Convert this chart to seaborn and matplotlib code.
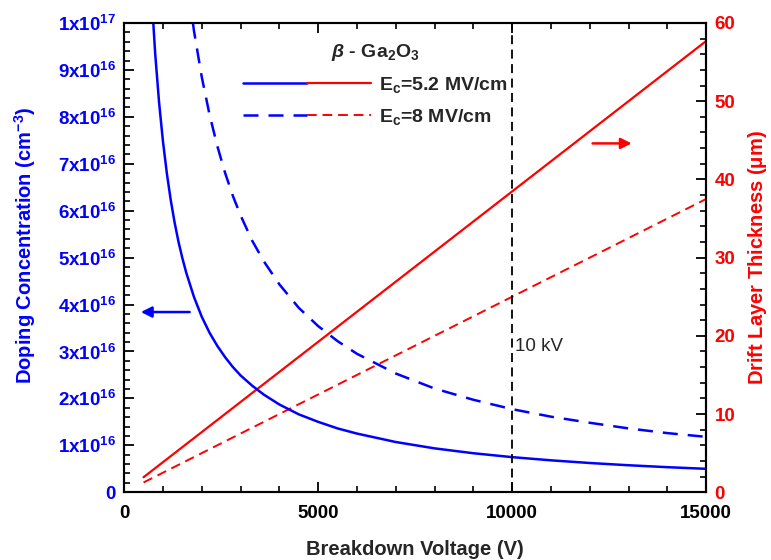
import matplotlib
matplotlib.use('Agg')
import matplotlib.pyplot as plt
import seaborn as sns
import pandas as pd
from matplotlib.legend_handler import HandlerTuple
from matplotlib.lines import Line2D
from matplotlib.ticker import MultipleLocator, FuncFormatter

# 값은 그림에서 읽은 것
voltage = [500, 600, 700, 800, 900, 1000, 1100, 1200, 1300, 1400, 1500, 1600, 1800,
           2000, 2200, 2400, 2600, 2800, 3000, 3300, 3600, 4000, 4500, 5000, 5500,
           6000, 7000, 8000, 9000, 10000, 11000, 12000, 13000, 14000, 15000]
# doping (x1e16 cm^-3)
doping_52 = [14.96, 12.47, 10.69, 9.35, 8.31, 7.48, 6.80, 6.23, 5.75, 5.34, 4.99, 4.68, 4.16,
             3.74, 3.40, 3.12, 2.88, 2.67, 2.49, 2.27, 2.08, 1.87, 1.66, 1.50, 1.36,
             1.25, 1.07, 0.935, 0.831, 0.748, 0.680, 0.623, 0.575, 0.534, 0.499]
doping_8 = [35.4, 29.5, 25.3, 22.1, 19.7, 17.7, 16.09, 14.75, 13.62, 12.64, 11.80, 11.06, 9.83,
            8.85, 8.05, 7.38, 6.81, 6.32, 5.90, 5.36, 4.92, 4.43, 3.93, 3.54, 3.22,
            2.95, 2.53, 2.21, 1.97, 1.77, 1.61, 1.48, 1.36, 1.26, 1.18]
# drift layer thickness (um)
thick_v = [500, 15000]
thick_52 = [1.92, 57.7]
thick_8 = [1.25, 37.5]

BLUE = '#0000FF'
RED = '#FF0000'

sns.set_style('ticks')
plt.rcParams['font.family'] = ['Liberation Sans', 'DejaVu Sans']
plt.rcParams['font.weight'] = 'bold'
plt.rcParams['mathtext.fontset'] = 'custom'
plt.rcParams['mathtext.rm'] = 'Liberation Sans'
plt.rcParams['mathtext.bf'] = 'Liberation Sans:bold'
plt.rcParams['mathtext.it'] = 'Liberation Sans:italic:bold'
plt.rcParams['mathtext.default'] = 'bf'


def main():
    df_n = pd.DataFrame({'V': voltage,
                         'n52': [d * 1e16 for d in doping_52],
                         'n8': [d * 1e16 for d in doping_8]})
    df_w = pd.DataFrame({'V': thick_v, 'w52': thick_52, 'w8': thick_8})

    fig = plt.figure(figsize=(7.71, 5.6), dpi=100)
    ax = fig.add_axes([0.161, 0.121, 0.755, 0.838])
    ax2 = ax.twinx()

    sns.lineplot(data=df_n, x='V', y='n52', ax=ax, color=BLUE, lw=1.8)
    sns.lineplot(data=df_n, x='V', y='n8', ax=ax, color=BLUE, lw=1.8,
                 linestyle=(0, (6, 4)))
    sns.lineplot(data=df_w, x='V', y='w52', ax=ax2, color=RED, lw=1.6)
    sns.lineplot(data=df_w, x='V', y='w8', ax=ax2, color=RED, lw=1.4,
                 linestyle=(0, (5, 3)))

    ax.axvline(10000, color='black', lw=1.3, linestyle=(0, (5, 3)))
    ax.text(10060, 3.1e16, '10 kV', fontsize=13.5, fontweight='normal', va='center')

    ax.set_xlim(0, 15000)
    ax.set_ylim(0, 1e17)
    ax2.set_ylim(0, 60)

    ax.xaxis.set_major_locator(MultipleLocator(5000))
    ax.xaxis.set_minor_locator(MultipleLocator(1000))
    ax.yaxis.set_major_locator(MultipleLocator(1e16))
    ax.yaxis.set_minor_locator(MultipleLocator(2e15))
    ax2.yaxis.set_major_locator(MultipleLocator(10))
    ax2.yaxis.set_minor_locator(MultipleLocator(2))

    def fmt(v, pos):
        if v < 1:
            return '0'
        k = int(round(v / 1e16))
        if k == 10:
            return r'1x10$^{17}$'
        return r'%dx10$^{16}$' % k
    ax.yaxis.set_major_formatter(FuncFormatter(fmt))

    for a in (ax, ax2):
        for s in a.spines.values():
            s.set_linewidth(1.5)
            s.set_color('black')
    ax.tick_params(axis='x', which='both', direction='in', top=True, labelsize=13.5,
                   colors='black')
    ax.tick_params(axis='y', which='both', direction='in', labelsize=13.5,
                   labelcolor=BLUE, color='black')
    ax2.tick_params(axis='y', which='both', direction='in', labelsize=13.5,
                    labelcolor=RED, color='black')
    for a in (ax, ax2):
        a.tick_params(which='major', length=7, width=1.3, pad=6)
        a.tick_params(which='minor', length=4, width=1.2)
    ax.tick_params(axis='x', which='major', pad=9)

    ax.set_xlabel('Breakdown Voltage (V)', fontsize=14.5, fontweight='bold', labelpad=13)
    ax.set_ylabel(r'Doping Concentration $\mathrm{(}$cm$^{-3}$$\mathrm{)}$', fontsize=14.5,
                  fontweight='bold', color=BLUE)
    ax.yaxis.set_label_coords(-0.148, 0.527)
    ax2.set_ylabel(r'Drift Layer Thickness $\mathrm{(\mu}$m$\mathrm{)}$', fontsize=14.5,
                   fontweight='bold', color=RED, labelpad=8)

    # 화살표
    ax.annotate('', xy=(360, 3.84e16), xytext=(1760, 3.84e16),
                arrowprops=dict(arrowstyle='-|>', color=BLUE, lw=1.8,
                                mutation_scale=16))
    ax2.annotate('', xy=(13150, 44.6), xytext=(12000, 44.6),
                 arrowprops=dict(arrowstyle='-|>', color=RED, lw=1.8,
                                 mutation_scale=16))

    # 범례
    h1 = (Line2D([], [], color=BLUE, lw=1.8), Line2D([], [], color=RED, lw=1.6))
    h2 = (Line2D([], [], color=BLUE, lw=1.8, linestyle=(0, (6, 4))),
          Line2D([], [], color=RED, lw=1.4, linestyle=(0, (5, 3))))
    leg = ax.legend([h1, h2], [r'E$_c$=5.2 MV/cm', r'E$_c$=8 MV/cm'],
                    handler_map={tuple: HandlerTuple(ndivide=None, pad=0)},
                    title=r'$\mathit{\beta}$ - Ga$_2$O$_3$', title_fontsize=14,
                    fontsize=14, frameon=False, handlelength=6.6, handletextpad=0.4,
                    labelspacing=0.6, loc='upper left',
                    bbox_to_anchor=(0.19, 0.975), borderaxespad=0)
    leg._legend_box.align = 'center'
    ax.set_zorder(ax2.get_zorder() + 1)
    ax.patch.set_visible(False)

    fig.savefig('out.png', dpi=100)


if __name__ == "__main__":
    main()
